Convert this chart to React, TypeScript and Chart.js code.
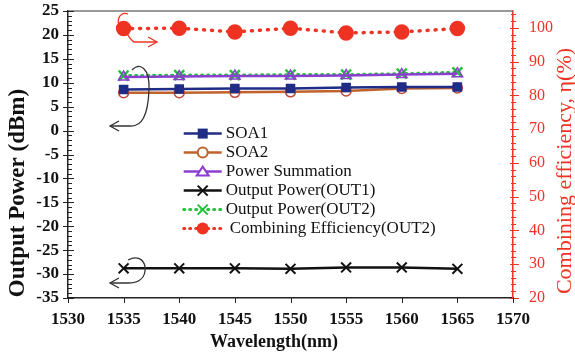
import React, { useEffect, useRef } from "react";
import { Chart, registerables } from "chart.js";

Chart.register(...registerables);

const wavelengths = [1535, 1540, 1545, 1550, 1555, 1560, 1565];
const soa1 = [8.6, 8.7, 8.8, 8.8, 9.0, 9.1, 9.1];
const soa2 = [7.9, 7.9, 8.0, 8.1, 8.3, 8.8, 8.9];
const powerSum = [11.2, 11.3, 11.4, 11.4, 11.5, 11.7, 11.9];
const out1 = [-28.8, -28.8, -28.8, -28.9, -28.6, -28.6, -28.9];
const out2 = [11.5, 11.6, 11.6, 11.7, 11.7, 11.9, 12.2];
const efficiency = [99.8, 99.9, 98.8, 99.9, 98.5, 98.8, 99.8];

const xTicks = [1530, 1535, 1540, 1545, 1550, 1555, 1560, 1565, 1570];
const leftTicks = [-35, -30, -25, -20, -15, -10, -5, 0, 5, 10, 15, 20, 25];
const rightTicks = [20, 30, 40, 50, 60, 70, 80, 90, 100];

const legendLabels = [
  "SOA1",
  "SOA2",
  "Power Summation",
  "Output Power(OUT1)",
  "Output Power(OUT2)",
  "Combining Efficiency(OUT2)",
];
const xTitle = "Wavelength(nm)";
const leftTitle = "Output Power (dBm)";
const rightTitle = "Combining efficiency, \u03b7(%)";

const NAVY = "#1f2d86";
const BROWN = "#c0622c";
const PURPLE = "#8b3fd0";
const BLACK = "#111111";
const GREEN = "#22c23a";
const RED = "#ee3322";
const SERIF = "'Liberation Serif', 'Times New Roman', serif";

const pts = (ys: number[]) => wavelengths.map((x, i) => ({ x, y: ys[i] }));

function drawMarker(ctx: CanvasRenderingContext2D, kind: string, x: number, y: number, color: string) {
  ctx.save();
  ctx.setLineDash([]);
  ctx.strokeStyle = color;
  ctx.fillStyle = color;
  ctx.lineWidth = 2;
  if (kind === "rect") {
    ctx.fillRect(x - 5, y - 5, 10, 10);
  } else if (kind === "circleHollow") {
    ctx.fillStyle = "#fff";
    ctx.beginPath();
    ctx.arc(x, y, 5, 0, Math.PI * 2);
    ctx.fill();
    ctx.stroke();
  } else if (kind === "triangle") {
    ctx.fillStyle = "#fff";
    ctx.beginPath();
    ctx.moveTo(x, y - 5);
    ctx.lineTo(x + 6, y + 4);
    ctx.lineTo(x - 6, y + 4);
    ctx.closePath();
    ctx.fill();
    ctx.stroke();
  } else if (kind === "cross") {
    ctx.beginPath();
    ctx.moveTo(x - 5, y - 5);
    ctx.lineTo(x + 5, y + 5);
    ctx.moveTo(x + 5, y - 5);
    ctx.lineTo(x - 5, y + 5);
    ctx.stroke();
  } else if (kind === "circle") {
    ctx.beginPath();
    ctx.arc(x, y, 6, 0, Math.PI * 2);
    ctx.fill();
  }
  ctx.restore();
}

const decorPlugin = {
  id: "decor",
  afterDraw(chart: any) {
    const ctx: CanvasRenderingContext2D = chart.ctx;
    const area = chart.chartArea;
    const xs = chart.scales.x;
    const yl = chart.scales.y;
    const yr = chart.scales.y2;
    ctx.save();
    ctx.strokeStyle = "#777";
    ctx.lineWidth = 1.5;
    ctx.beginPath();
    ctx.moveTo(area.left, area.top);
    ctx.lineTo(area.right, area.top);
    ctx.stroke();

    ctx.strokeStyle = "#222";
    ctx.lineWidth = 1;
    for (let v = -35; v <= 25; v += 1) {
      const y = Math.round(yl.getPixelForValue(v)) + 0.5;
      const major = v % 5 === 0;
      ctx.beginPath();
      ctx.moveTo(area.left - (major ? 5 : 0), y);
      ctx.lineTo(area.left + (major ? 6 : 4), y);
      ctx.stroke();
    }
    ctx.strokeStyle = RED;
    for (let v = 20; v <= 104; v += 2) {
      const y = Math.round(yr.getPixelForValue(v)) + 0.5;
      const major = v % 10 === 0;
      ctx.beginPath();
      ctx.moveTo(area.right - (major ? 3 : 2), y);
      ctx.lineTo(area.right + (major ? 6 : 3), y);
      ctx.stroke();
    }
    ctx.strokeStyle = "#222";
    for (let v = 1530; v <= 1570; v += 5) {
      const x = Math.round(xs.getPixelForValue(v)) + 0.5;
      ctx.beginPath();
      ctx.moveTo(x, area.bottom);
      ctx.lineTo(x, area.bottom + 5);
      ctx.stroke();
    }

    ctx.textAlign = "center";
    ctx.textBaseline = "middle";
    ctx.fillStyle = "#111";
    ctx.font = `bold 18px ${SERIF}`;
    ctx.fillText(xTitle, 274, 342);

    ctx.save();
    ctx.translate(18, 193);
    ctx.rotate(-Math.PI / 2);
    ctx.font = `bold 23px ${SERIF}`;
    ctx.fillText(leftTitle, 0, 0);
    ctx.restore();

    ctx.save();
    ctx.translate(565, 171);
    ctx.rotate(-Math.PI / 2);
    ctx.fillStyle = RED;
    ctx.font = `22px ${SERIF}`;
    ctx.fillText(rightTitle, 0, 0);
    ctx.restore();

    const lx = xs.getPixelForValue(1540.4);
    const ly0 = yl.getPixelForValue(0) + 3;
    const step = 19;
    const items = [
      { color: NAVY, marker: "rect", dash: false },
      { color: BROWN, marker: "circleHollow", dash: false },
      { color: PURPLE, marker: "triangle", dash: false },
      { color: BLACK, marker: "cross", dash: false },
      { color: GREEN, marker: "cross", dash: true },
      { color: RED, marker: "circle", dash: true },
    ];
    ctx.font = `17px ${SERIF}`;
    ctx.textBaseline = "middle";
    ctx.textAlign = "left";
    items.forEach((it, i) => {
      const y = ly0 + i * step;
      ctx.save();
      ctx.strokeStyle = it.color;
      ctx.lineWidth = it.dash ? 3 : 2.5;
      if (it.dash) {
        ctx.setLineDash([1, 5]);
        ctx.lineCap = "round";
      }
      ctx.beginPath();
      ctx.moveTo(lx, y);
      ctx.lineTo(lx + 38, y);
      ctx.stroke();
      ctx.restore();
      drawMarker(ctx, it.marker, lx + 19, y, it.color);
      ctx.fillStyle = "#111";
      ctx.fillText(legendLabels[i], lx + (i === 5 ? 46 : 42), y);
    });

    const arrowHead = (x: number, y: number, dir: number) => {
      ctx.beginPath();
      ctx.moveTo(x + dir * 9, y - 5);
      ctx.lineTo(x, y);
      ctx.lineTo(x + dir * 9, y + 5);
      ctx.stroke();
    };
    ctx.strokeStyle = RED;
    ctx.lineWidth = 1.3;
    ctx.beginPath();
    ctx.moveTo(128, 14);
    ctx.bezierCurveTo(118, 10, 114, 26, 124, 30);
    ctx.bezierCurveTo(128, 34, 130, 40, 134, 42);
    ctx.lineTo(157, 42);
    ctx.stroke();
    arrowHead(157, 42, -1);
    ctx.strokeStyle = "#333";
    ctx.beginPath();
    ctx.moveTo(132, 70);
    ctx.bezierCurveTo(140, 62, 150, 68, 149, 90);
    ctx.bezierCurveTo(148, 115, 142, 127, 130, 126);
    ctx.lineTo(110, 126);
    ctx.stroke();
    arrowHead(110, 126, 1);
    ctx.beginPath();
    ctx.moveTo(128, 260);
    ctx.bezierCurveTo(140, 254, 146, 262, 145, 271);
    ctx.bezierCurveTo(144, 280, 136, 283, 128, 283);
    ctx.lineTo(110, 283);
    ctx.stroke();
    arrowHead(110, 283, 1);

    ctx.restore();
  },
};

export default function App() {
  const ref = useRef<HTMLCanvasElement | null>(null);
  useEffect(() => {
    if (!ref.current) return;
    const tickFont = { family: SERIF, size: 17, weight: "bold" as const };
    const setTicks = (vals: number[]) => (s: any) => {
      s.ticks = vals.map((value) => ({ value }));
    };
    const fitTo = (w: number | null, h: number | null) => (s: any) => {
      if (w !== null) s.width = w;
      if (h !== null) s.height = h;
      s.paddingTop = 0;
      s.paddingBottom = 0;
      s.paddingLeft = 0;
      s.paddingRight = 0;
    };
    const chart = new Chart(ref.current, {
      type: "line",
      data: {
        datasets: [
          {
            label: "SOA1",
            data: pts(soa1),
            borderColor: NAVY,
            backgroundColor: NAVY,
            borderWidth: 2.5,
            pointStyle: "rect",
            pointRadius: 5,
            yAxisID: "y",
          },
          {
            label: "SOA2",
            data: pts(soa2),
            borderColor: BROWN,
            backgroundColor: "rgba(0,0,0,0)",
            pointBorderColor: "#c04a3a",
            borderWidth: 2.5,
            pointBorderWidth: 1.5,
            pointStyle: "circle",
            pointRadius: 5,
            yAxisID: "y",
          },
          {
            label: "Power Summation",
            data: pts(powerSum),
            borderColor: PURPLE,
            backgroundColor: "rgba(0,0,0,0)",
            borderWidth: 2.5,
            pointBorderWidth: 1.5,
            pointStyle: "triangle",
            pointRadius: 6,
            yAxisID: "y",
          },
          {
            label: "Output Power(OUT1)",
            data: pts(out1),
            borderColor: BLACK,
            backgroundColor: BLACK,
            borderWidth: 2.5,
            pointBorderWidth: 2,
            pointStyle: "crossRot",
            pointRadius: 7,
            yAxisID: "y",
          },
          {
            label: "Output Power(OUT2)",
            data: pts(out2),
            borderColor: GREEN,
            backgroundColor: GREEN,
            borderWidth: 3,
            borderDash: [1, 5],
            borderCapStyle: "round",
            pointBorderWidth: 2.5,
            pointStyle: "crossRot",
            pointRadius: 7,
            yAxisID: "y",
          },
          {
            label: "Combining Efficiency(OUT2)",
            data: pts(efficiency),
            borderColor: RED,
            backgroundColor: RED,
            borderWidth: 3.5,
            borderDash: [1, 7],
            borderCapStyle: "round",
            pointStyle: "circle",
            pointRadius: 6,
            yAxisID: "y2",
          },
        ],
      },
      options: {
        animation: false,
        responsive: false,
        maintainAspectRatio: false,
        layout: { padding: { top: 11, left: 0, right: 0, bottom: 0 } },
        plugins: { legend: { display: false }, tooltip: { enabled: false } },
        scales: {
          x: {
            type: "linear",
            min: 1530,
            max: 1570,
            afterBuildTicks: setTicks(xTicks),
            ticks: {
              color: "#111",
              font: tickFont,
              padding: 11,
              callback: (v: any) => String(v),
            },
            grid: { display: false, drawTicks: false },
            border: { display: true, color: "#222", width: 1.5 },
            afterFit: fitTo(null, 59),
          },
          y: {
            position: "left",
            min: -35,
            max: 25,
            afterBuildTicks: setTicks(leftTicks),
            ticks: { color: "#111", font: tickFont, padding: 9, callback: (v: any) => String(v) },
            grid: { display: false, drawTicks: false },
            border: { display: true, color: "#222", width: 1.5 },
            afterFit: fitTo(68, null),
          },
          y2: {
            position: "right",
            min: 20,
            max: 105,
            afterBuildTicks: setTicks(rightTicks),
            ticks: {
              color: RED,
              font: { family: SERIF, size: 16 },
              padding: 16,
              callback: (v: any) => String(v),
            },
            grid: { display: false, drawTicks: false },
            border: { display: true, color: RED, width: 1.5 },
            afterFit: fitTo(62, null),
          },
        },
      },
      plugins: [decorPlugin],
    });
    return () => chart.destroy();
  }, []);
  return (
    <div style={{ position: "absolute", left: 0, top: 0, width: 575, height: 357, background: "#fff" }}>
      <canvas ref={ref} width={575} height={357} style={{ width: 575, height: 357 }} />
    </div>
  );
}
